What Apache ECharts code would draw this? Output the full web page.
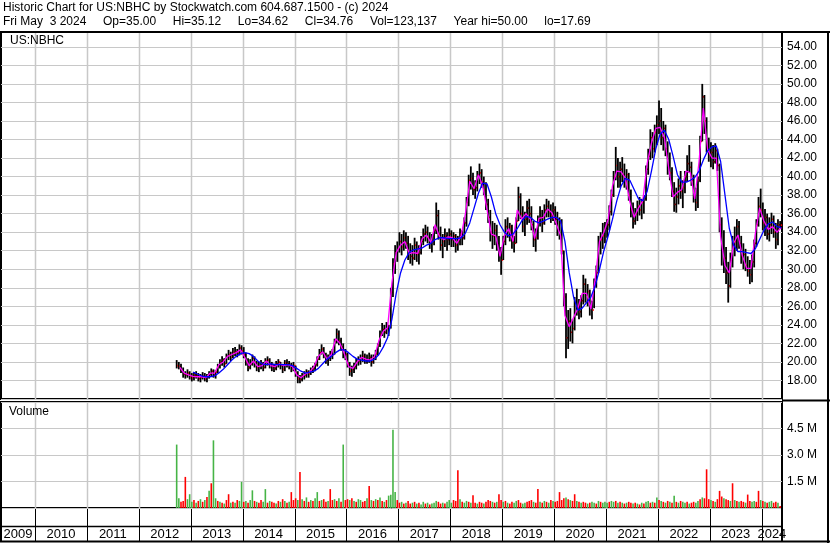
<!DOCTYPE html>
<html><head><meta charset="utf-8">
<script src="https://cdn.jsdelivr.net/npm/echarts@6/dist/echarts.min.js"></script>
<style>html,body{margin:0;padding:0;background:#fff}#c{width:830px;height:543px}</style>
</head><body><div id="c"></div>
<script>
// ---- data: semi-monthly bars from 2nd half of Sep 2012 to 1st half of May 2024 ----
const startYear = 2012, startHalf = 17; // half-month index within the year (Sep, 2nd half)
const high = [
 20.2,20.0,19.8,19.4,19.0,19.2,19.0,
 18.8,18.9,19.0,18.8,18.7,18.9,18.8,18.7,19.0,19.3,19.2,19.1,19.8,20.3,20.6,20.4,20.9,21.3,21.1,21.5,21.6,21.4,21.9,21.8,
 21.6,21.0,20.4,20.3,20.8,20.6,20.1,20.0,20.2,20.0,20.4,20.6,20.4,20.0,19.8,20.1,20.3,20.0,19.8,20.2,20.3,20.1,19.9,20.0,
 19.6,19.0,18.6,18.8,19.0,19.2,19.1,19.4,19.6,19.9,20.6,21.4,21.9,21.6,21.0,20.8,21.2,21.4,22.5,23.6,23.4,22.6,22.0,21.4,
 21.0,20.0,19.6,19.9,20.4,20.6,20.8,21.2,20.9,20.8,21.0,20.8,20.8,21.3,22.0,23.4,24.2,24.0,24.3,24.0,28.0,31.2,32.6,33.0,
 34.0,33.8,34.2,34.0,33.6,32.8,32.6,33.4,33.0,32.6,33.6,34.4,34.8,34.6,34.0,33.8,34.6,37.2,36.4,34.6,33.8,34.4,34.0,34.4,
 34.2,34.0,33.8,33.6,34.4,34.2,35.6,37.8,40.2,41.1,40.4,39.6,40.6,41.4,40.8,40.0,39.4,37.6,36.4,35.2,35.0,34.8,33.6,32.4,
 33.6,35.4,35.6,35.0,34.8,33.6,35.6,38.9,38.2,36.8,36.2,37.4,37.6,36.8,35.2,34.4,35.8,36.8,36.4,37.0,37.6,37.4,37.0,37.2,
 36.8,36.2,35.6,35.4,32.0,27.4,25.6,25.8,24.6,27.0,27.9,26.8,27.2,29.4,29.0,28.4,27.8,26.6,29.0,30.4,33.6,34.0,35.0,35.1,
 35.4,36.9,38.6,40.6,43.2,42.0,41.6,42.1,41.4,40.8,40.4,38.6,37.2,36.6,37.4,37.8,37.6,38.0,41.2,43.0,45.1,44.8,45.6,46.6,
 48.2,47.4,46.0,45.6,43.8,42.6,41.0,39.4,38.8,39.8,40.6,39.6,40.6,42.3,43.4,41.6,40.2,38.8,40.0,44.4,50.0,48.8,46.4,44.2,
 43.7,43.4,43.6,43.0,41.4,35.6,34.2,32.4,30.8,31.8,33.6,34.6,35.4,35.2,33.6,32.8,32.2,31.4,31.0,31.6,33.2,35.4,37.8,38.7,
 37.2,36.5,36.0,35.6,36.1,35.8,35.0,35.4,35.2
];
const low = [
 19.3,19.2,18.8,18.3,18.2,18.3,18.1,
 17.9,18.0,18.2,17.9,17.8,18.1,17.9,17.8,18.2,18.4,18.3,18.2,18.8,19.3,19.6,19.4,19.8,20.2,20.1,20.4,20.6,20.5,20.7,20.8,
 20.4,19.6,19.0,19.2,19.6,19.4,19.0,18.9,19.2,19.0,19.3,19.6,19.3,19.0,18.9,19.1,19.4,19.2,18.8,19.0,19.4,19.2,18.9,19.0,
 18.4,17.7,17.7,17.9,18.1,18.3,18.3,18.6,18.8,19.0,19.5,20.2,20.8,20.4,19.8,19.6,20.1,20.3,20.8,22.0,21.8,21.2,20.4,20.2,
 19.4,18.5,18.4,18.8,19.2,19.6,19.7,20.0,19.8,19.8,19.9,19.5,19.8,20.2,20.7,21.6,22.8,22.6,23.0,22.8,23.6,27.0,29.5,30.8,
 31.8,31.5,32.0,32.2,31.0,30.6,30.4,31.0,30.8,30.5,31.6,32.6,33.0,32.8,32.2,31.8,32.6,33.8,33.2,32.0,31.2,32.4,32.0,32.6,
 32.4,32.4,31.8,32.0,32.6,32.6,33.2,34.6,36.8,38.6,38.0,37.6,38.4,39.2,38.8,38.0,36.4,35.0,33.0,32.2,32.6,32.0,30.8,29.4,
 31.0,32.6,33.4,33.0,32.2,31.8,32.8,35.2,35.4,34.0,33.6,34.8,35.0,34.2,32.4,31.9,33.2,34.6,34.0,34.8,35.6,35.6,35.0,35.2,
 34.8,33.6,33.2,31.6,26.0,20.4,21.4,22.2,22.0,23.4,25.0,24.6,24.8,26.2,26.4,26.0,25.0,24.6,25.8,28.0,29.6,31.6,32.2,32.8,
 33.4,34.2,35.8,37.8,39.6,38.8,38.8,39.4,38.8,38.6,37.4,35.6,34.4,34.8,35.2,35.8,35.4,36.0,37.4,40.2,41.8,42.0,42.6,43.4,
 44.6,43.4,42.8,42.2,40.2,39.6,37.8,36.2,36.1,37.0,37.6,36.6,38.2,39.4,40.4,39.0,37.2,36.3,36.6,39.4,43.8,44.6,42.6,41.6,
 41.0,40.8,41.4,40.6,34.0,30.4,29.6,28.4,26.4,28.0,30.2,31.4,32.0,32.2,30.6,30.0,29.8,29.2,28.4,28.6,30.2,32.4,34.6,35.6,
 34.2,33.6,33.2,33.0,33.8,33.4,32.2,32.6,34.4
];
const close = [
 19.6,19.5,19.1,18.7,18.6,18.8,18.4,
 18.3,18.6,18.5,18.2,18.3,18.5,18.2,18.4,18.7,19.0,18.6,18.9,19.5,20.0,20.2,19.8,20.6,20.8,20.5,21.0,21.1,20.9,21.5,21.2,
 20.8,20.0,19.4,19.8,20.4,19.9,19.4,19.6,19.8,19.4,20.1,20.2,19.7,19.5,19.3,19.8,20.0,19.6,19.2,19.9,19.8,19.6,19.4,19.6,
 18.8,18.2,18.1,18.5,18.6,18.9,18.7,19.1,19.3,19.7,20.3,21.0,21.4,20.8,20.2,20.4,20.9,20.8,22.2,23.0,22.3,21.6,20.9,20.8,
 19.8,19.0,19.2,19.5,20.0,20.1,20.4,20.6,20.3,20.2,20.5,20.0,20.4,20.9,21.8,23.0,23.5,23.2,23.6,23.9,27.5,30.6,31.8,32.2,
 33.0,32.4,33.4,32.8,31.8,31.4,31.2,32.6,31.6,31.8,33.0,33.8,34.0,33.4,32.8,33.0,34.2,35.8,33.8,32.6,33.0,33.6,33.2,33.8,
 33.2,33.6,32.6,33.0,33.8,33.4,35.0,37.2,39.6,39.8,38.6,38.8,40.2,40.4,39.4,38.6,37.0,35.6,34.0,33.6,34.2,32.8,31.6,31.0,
 33.0,34.6,34.2,34.6,33.0,32.8,35.2,37.8,36.0,34.6,35.4,36.6,36.0,34.8,33.2,33.4,35.4,35.6,35.0,36.4,36.8,36.2,35.8,36.4,
 35.4,34.2,35.0,32.0,27.0,22.6,24.4,23.2,23.6,26.4,26.0,25.4,26.6,28.4,27.2,27.6,25.8,25.6,28.6,29.6,32.8,33.2,33.6,34.4,
 34.8,36.2,38.0,40.0,41.2,40.0,40.8,40.2,39.6,40.2,38.0,36.4,35.2,36.0,36.8,36.4,37.2,37.6,40.8,42.2,44.2,43.0,44.8,45.6,
 46.0,44.2,45.2,43.0,41.2,40.4,38.4,37.0,37.8,39.0,38.4,38.8,40.0,41.4,41.0,39.6,37.8,37.2,39.6,43.8,48.6,46.0,43.2,42.4,
 42.6,41.6,42.8,41.2,34.8,32.2,31.2,29.6,28.2,31.0,32.6,33.0,34.6,32.8,31.4,31.6,30.4,29.8,29.4,30.8,32.8,34.8,36.8,36.4,
 35.0,35.6,33.8,34.8,35.4,34.0,33.2,34.8,34.76
];
// volume in millions of shares; volUp: 1 = up bar (green), 0 = down bar (red)
const volume = [
 3.59,0.55,0.35,0.40,1.76,0.50,0.78,
 0.35,0.45,0.30,0.40,0.50,0.35,0.45,0.62,0.97,1.40,3.83,0.55,0.40,0.35,0.30,0.25,0.45,0.78,0.30,0.35,0.30,0.45,0.40,1.48,
 0.35,0.40,0.30,0.45,1.00,0.40,0.35,0.30,0.45,0.35,1.07,0.30,0.40,0.35,0.30,0.25,0.40,0.35,0.50,0.40,0.30,0.35,0.90,0.45,
 0.55,0.45,2.04,0.50,0.40,0.60,0.35,0.45,0.40,0.55,0.90,0.40,0.45,0.50,0.35,0.40,1.07,0.45,0.50,0.40,0.55,0.35,3.59,0.45,
 0.50,0.45,0.55,0.40,0.35,0.50,0.45,0.35,0.40,0.55,1.25,0.45,0.40,0.50,0.45,0.60,0.40,0.35,0.45,0.70,0.75,4.43,0.90,0.45,
 0.30,0.35,0.25,0.30,0.40,0.25,0.30,0.35,0.25,0.30,0.20,0.35,0.25,0.30,0.20,0.25,0.30,0.40,0.35,0.25,0.30,0.25,0.35,0.45,
 0.30,0.45,0.40,2.13,0.50,0.35,0.30,0.40,0.35,0.30,0.72,0.30,0.25,0.35,0.30,0.25,0.35,0.45,0.40,0.35,0.30,0.35,0.78,0.45,
 0.35,0.40,0.30,0.25,0.35,0.30,0.40,0.45,0.30,0.25,0.30,0.35,0.40,0.45,0.35,0.30,1.07,0.35,0.30,0.40,0.35,0.30,0.45,0.40,
 0.35,0.40,0.90,0.45,0.55,0.60,0.50,0.45,0.40,0.78,0.40,0.35,0.30,0.35,0.30,0.25,0.30,0.35,0.30,0.25,0.40,0.35,0.30,0.35,
 0.30,0.35,0.40,0.35,0.40,0.30,0.35,0.30,0.25,0.30,0.35,0.30,0.25,0.30,0.25,0.20,0.30,0.25,0.35,0.40,0.30,0.35,0.30,0.60,
 0.45,0.40,0.35,0.30,0.40,0.35,0.30,0.70,0.35,0.30,0.40,0.35,0.30,0.35,0.25,0.30,0.35,0.30,0.40,0.50,0.60,0.55,2.19,0.50,
 0.45,0.40,0.35,0.50,0.97,0.65,0.55,0.50,0.45,0.40,1.40,0.45,0.40,0.35,0.40,0.35,0.30,0.76,0.40,0.35,0.40,0.35,0.97,0.45,
 0.40,0.35,0.30,0.35,0.40,0.30,0.35,0.30,0.12
];
const volUp = [
 1,1,0,0,0,1,1,
 1,0,1,0,1,0,1,0,1,0,1,1,0,1,0,1,0,0,1,0,1,0,1,1,
 0,1,0,1,1,0,1,0,0,1,1,0,1,0,0,1,0,1,0,1,0,1,0,0,
 0,1,0,1,0,1,0,1,0,1,1,0,1,0,0,1,0,0,1,0,1,0,1,0,
 0,1,0,1,0,1,1,0,0,1,0,1,0,1,0,1,0,1,0,1,1,1,1,0,
 0,1,0,1,0,0,1,0,1,0,1,1,0,1,0,1,1,1,0,0,1,0,1,1,
 1,0,0,0,1,0,1,1,0,1,0,0,1,0,0,1,0,0,0,1,0,1,0,0,
 1,0,1,0,0,1,1,0,0,1,1,0,0,0,1,0,0,1,0,1,0,1,0,1,
 0,0,0,0,0,1,0,1,0,0,1,0,1,0,0,1,0,1,1,0,1,0,1,1,
 1,0,1,1,0,1,0,1,0,1,0,0,1,0,1,0,1,0,1,1,0,1,0,1,
 0,1,0,1,0,1,0,1,0,1,0,1,1,0,1,0,0,1,1,0,1,0,0,0,
 1,0,1,0,0,0,1,0,0,1,0,1,0,1,0,0,1,0,0,1,1,0,0,1,
 0,1,0,1,1,0,0,1,0
];
// moving averages, monthly values (magenta: short, from Oct 2012; blue: long, from Jan 2013)
const maShort = [
 19.4,18.8,18.6,
 18.45,18.4,18.4,18.3,18.8,18.8,19.7,20.0,20.6,20.8,21.0,21.3,
 20.5,19.6,20.1,19.5,19.6,20.1,19.6,19.5,19.8,19.6,19.7,19.5,
 18.6,18.3,18.7,18.9,19.5,20.6,21.1,20.3,20.8,22.5,22.0,20.9,
 19.5,19.3,20.0,20.5,20.3,20.2,20.6,22.3,23.3,23.7,28.5,31.8,
 32.6,33.0,31.7,31.8,31.7,33.3,33.7,32.9,34.8,33.5,33.2,33.5,
 33.4,32.8,33.6,36.0,39.5,38.7,40.2,39.0,36.4,33.8,33.6,31.4,
 33.6,34.4,33.0,36.4,35.4,36.0,35.4,33.3,35.5,35.6,36.5,36.1,
 34.9,33.6,25.0,23.8,24.8,25.8,27.4,27.4,25.7,29.0,33.0,34.0,
 35.4,39.0,40.6,40.5,39.8,37.3,35.6,36.6,37.4,41.4,43.6,45.2,
 45.3,44.2,40.9,37.8,38.3,38.6,40.6,40.4,37.6,41.6,47.4,42.9,
 42.0,42.0,33.5,30.4,29.6,32.8,33.7,31.5,30.1,30.1,33.8,36.6,
 35.2,34.3,34.6,34.0,34.5
];
const maLong = [
 18.9,18.7,18.5,18.4,18.4,18.5,18.8,19.2,19.7,20.2,20.6,20.9,
 21.0,20.9,20.6,20.1,19.8,19.7,19.8,19.7,19.7,19.7,19.7,19.6,
 19.3,19.0,18.8,18.9,19.0,19.3,19.8,20.3,20.6,21.0,21.3,21.3,
 21.0,20.6,20.3,20.2,20.1,20.1,20.3,20.8,21.6,22.6,24.6,27.4,
 29.6,31.0,31.8,32.1,32.2,32.3,32.6,32.8,33.2,33.4,33.4,33.3,
 33.3,33.3,33.4,33.9,35.0,36.6,38.2,39.3,39.2,37.8,36.0,34.8,
 34.0,33.6,33.8,34.4,35.2,35.7,35.6,35.2,35.0,35.2,35.4,35.6,
 35.6,35.2,33.0,29.6,27.0,25.6,25.8,26.4,27.0,28.2,30.0,32.0,
 33.6,35.4,37.4,39.0,39.8,39.6,38.6,37.6,37.4,38.4,40.6,43.0,
 44.6,45.0,44.0,42.2,40.2,39.4,39.4,39.6,39.9,40.6,41.8,42.8,
 43.2,43.3,41.6,38.0,34.4,32.6,31.9,31.9,31.8,31.7,32.2,33.2,
 34.2,34.9,35.1,34.6,34.5
];
const years = [2009,2010,2011,2012,2013,2014,2015,2016,2017,2018,2019,2020,2021,2022,2023,2024];
const titleLine1 = "Historic Chart for US:NBHC by Stockwatch.com 604.687.1500 - (c) 2024";
const titleLine2 = "Fri May  3 2024     Op=35.00     Hi=35.12     Lo=34.62     Cl=34.76     Vol=123,137     Year hi=50.00     lo=17.69";
const symbolLabel = "US:NBHC";
const volumeLabel = "Volume";

// ---- build ----
const FONT = "'Liberation Sans', Arial, sans-serif";
const dates = high.map((_, k) => startYear + (startHalf + k + 0.5) / 24);
const shortDates = maShort.map((_, i) => 2012 + (9 + i + 0.5) / 12);
const longDates = maLong.map((_, i) => 2013 + (i + 0.5) / 12);
const priceData = dates.map((t, k) => [t, low[k], high[k], close[k]]);
const volData = dates.map((t, k) => [t, volume[k]]);
const yearLineData = years.slice(1).map(y => [y, 0]);
const xMin = 2009.345, xMax = 2024.39;

function renderPriceBar(params, api) {
  const t = api.value(0);
  const top = api.coord([t, api.value(2)]);
  const bot = api.coord([t, api.value(1)]);
  const cl = api.coord([t, api.value(3)]);
  const w = 1.8;
  return {type: 'group', children: [
    {type: 'rect', shape: {x: top[0] - w / 2, y: top[1], width: w, height: Math.max(1, bot[1] - top[1])}, style: {fill: '#000'}},
    {type: 'rect', shape: {x: cl[0] + w / 2 - 0.3, y: cl[1] - 0.8, width: 1.4, height: 1.6}, style: {fill: '#ff0000'}}
  ]};
}
function makeYearLines(color, width) {
  return function (params, api) {
    const cs = params.coordSys;
    const x = Math.round(api.coord([api.value(0), api.value(1)])[0]) + 0.5;
    return {type: 'line', shape: {x1: x, y1: cs.y, x2: x, y2: cs.y + cs.height}, style: {stroke: color, lineWidth: width}};
  };
}
function renderYearLabel(params, api) {
  const cs = params.coordSys;
  const Y = api.value(0);
  const x0 = api.coord([Y, 0.5])[0];
  const x1 = api.coord([Y + 1, 0.5])[0];
  const L = cs.x, R = cs.x + cs.width;
  const a = Math.max(x0, L), b = Math.min(x1, R);
  const children = [{type: 'text', style: {text: String(Y), x: (a + b) / 2, y: cs.y + cs.height - 7, align: 'center', verticalAlign: 'middle', font: '13px ' + FONT, fill: '#000'}}];
  if (x0 > L + 1) {
    const xl = Math.round(x0) + 0.5;
    children.push({type: 'line', shape: {x1: xl, y1: cs.y, x2: xl, y2: cs.y + cs.height}, style: {stroke: '#000', lineWidth: 1}});
  }
  return {type: 'group', children};
}

const chart = echarts.init(document.getElementById('c'));
const gridBorder = {show: true, borderColor: '#000', borderWidth: 2, backgroundColor: 'transparent'};
chart.setOption({
  animation: false,
  backgroundColor: '#fff',
  grid: [
    Object.assign({left: 1, top: 32, width: 781, height: 367}, gridBorder),
    Object.assign({left: 1, top: 402, width: 781, height: 106}, gridBorder),
    {left: 1, top: 509, width: 781, height: 32, show: false}
  ],
  xAxis: [0, 1, 2].map(i => ({type: 'value', gridIndex: i, min: xMin, max: xMax, show: false})),
  yAxis: [
    {type: 'value', gridIndex: 0, position: 'right', min: 16, max: 55.6, interval: 2,
     axisLine: {show: false}, axisTick: {show: false},
     splitLine: {show: true, lineStyle: {color: '#c8c8c8', width: 1}},
     axisLabel: {margin: 5, color: '#000', fontSize: 12, fontFamily: FONT,
       formatter: v => (v >= 17.9 && v <= 54.1) ? v.toFixed(2) : ''}},
    {type: 'value', gridIndex: 1, position: 'right', min: 0, max: 6, interval: 1.5,
     axisLine: {show: false}, axisTick: {show: false},
     splitLine: {show: true, lineStyle: {color: '#c8c8c8', width: 1}},
     axisLabel: {margin: 5, color: '#000', fontSize: 12, fontFamily: FONT,
       formatter: v => (v > 0.1 && v < 5.9) ? v.toFixed(1) + ' M' : ''}},
    {type: 'value', gridIndex: 2, min: 0, max: 1, show: false}
  ],
  graphic: [
    {type: 'text', left: 3, top: 2, style: {text: titleLine1, font: '12px ' + FONT, fill: '#000'}},
    {type: 'text', left: 3, top: 16, style: {text: titleLine2, font: '12px ' + FONT, fill: '#000'}},
    {type: 'text', left: 10, top: 35, z: 50, style: {text: symbolLabel, font: '12px ' + FONT, fill: '#000'}},
    {type: 'text', left: 9, top: 406, z: 50, style: {text: volumeLabel, font: '12px ' + FONT, fill: '#000'}},
    {type: 'line', z: 60, shape: {x1: 0, y1: 32, x2: 830, y2: 32}, style: {stroke: '#000', lineWidth: 2}},
    {type: 'line', z: 60, shape: {x1: 782, y1: 400.5, x2: 830, y2: 400.5}, style: {stroke: '#000', lineWidth: 2}},
    {type: 'line', z: 60, shape: {x1: 828, y1: 32, x2: 828, y2: 543}, style: {stroke: '#000', lineWidth: 2}},
    {type: 'line', z: 60, shape: {x1: 0, y1: 541.5, x2: 830, y2: 541.5}, style: {stroke: '#000', lineWidth: 2}},
    {type: 'line', z: 60, shape: {x1: 0, y1: 526.5, x2: 782, y2: 526.5}, style: {stroke: '#000', lineWidth: 1.5}},
    {type: 'line', z: 60, shape: {x1: 1, y1: 508, x2: 1, y2: 542}, style: {stroke: '#000', lineWidth: 2}},
    {type: 'line', z: 60, shape: {x1: 782, y1: 508, x2: 782, y2: 542}, style: {stroke: '#000', lineWidth: 2}}
  ],
  series: [
    {type: 'custom', xAxisIndex: 0, yAxisIndex: 0, z: 1, silent: true, renderItem: makeYearLines('#c8c8c8', 1.5), data: yearLineData, encode: {x: 0, y: 1}},
    {type: 'custom', xAxisIndex: 0, yAxisIndex: 0, z: 3, silent: true, renderItem: renderPriceBar, data: priceData, encode: {x: 0, y: [1, 2, 3]}},
    {type: 'line', xAxisIndex: 0, yAxisIndex: 0, z: 4, silent: true, showSymbol: false, data: shortDates.map((t, i) => [t, maShort[i]]), lineStyle: {color: '#ff00ff', width: 1.3}},
    {type: 'line', xAxisIndex: 0, yAxisIndex: 0, z: 5, silent: true, showSymbol: false, data: longDates.map((t, i) => [t, maLong[i]]), lineStyle: {color: '#0000ff', width: 1.3}},
    {type: 'custom', xAxisIndex: 1, yAxisIndex: 1, z: 1, silent: true, renderItem: makeYearLines('#c8c8c8', 1.5), data: yearLineData, encode: {x: 0, y: 1}},
    {type: 'bar', xAxisIndex: 1, yAxisIndex: 1, z: 3, silent: true, barWidth: 1.6, data: volData,
     itemStyle: {color: p => volUp[p.dataIndex] ? '#46b446' : '#ff0000'}},
    {type: 'custom', xAxisIndex: 2, yAxisIndex: 2, z: 3, silent: true, renderItem: renderYearLabel, data: years.map(y => [y, 0.5]), encode: {x: 0, y: 1}}
  ]
});
</script>
</body></html>
